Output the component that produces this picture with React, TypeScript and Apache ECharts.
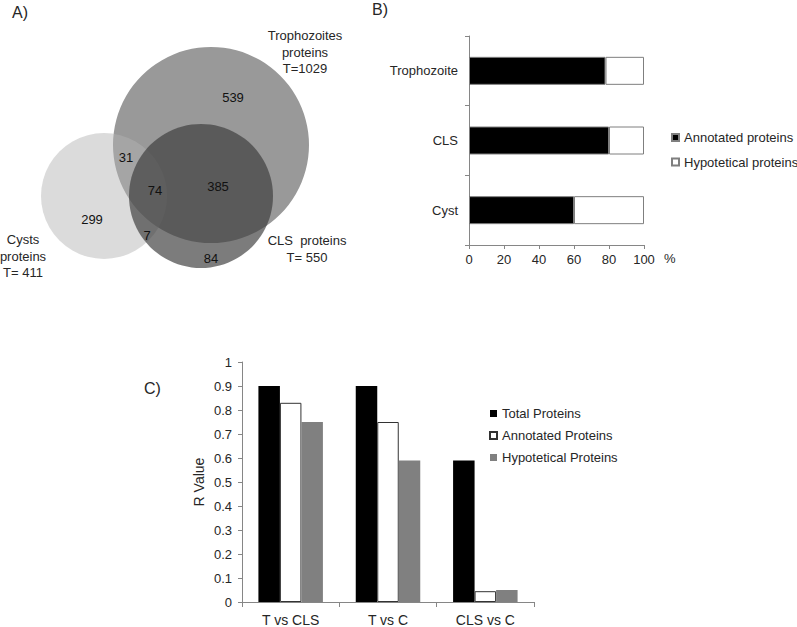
import React, { useEffect, useRef } from "react";
import * as echarts from "echarts";

// ---------- Data ----------
// Panel A: Venn diagram
const vennSetNames = ["Trophozoites", "Cysts", "CLS "];
const vennSetTotalsText = ["T=1029", "T= 411", "T= 550"];
const vennRegionNames = ["T only", "C only", "CLS only", "T∩C", "T∩CLS", "C∩CLS", "T∩C∩CLS"];
const vennRegionCounts = [539, 299, 84, 31, 385, 7, 74];

// Panel B: annotated vs hypothetical (%)
const stageCategories = ["Trophozoite", "CLS", "Cyst"];
const annotatedPct = [78, 80, 60];
const hypotheticalPct = [22, 20, 40];
const pctTicks = [0, 20, 40, 60, 80, 100];

// Panel C: R values
const comparisonCategories = ["T vs CLS", "T vs C", "CLS vs C"];
const rTotal = [0.9, 0.9, 0.59];
const rAnnotated = [0.83, 0.75, 0.045];
const rHypotetical = [0.75, 0.59, 0.05];

// ---------- Layout (Venn geometry in panel units) ----------
const vennCircleLayout = [
  [211, 145, 98], // Trophozoites
  [104, 196, 63], // Cysts
  [201, 196, 72], // CLS
];
const vennCircleFills = ["#999999", "rgba(178,178,178,0.47)", "rgba(60,60,60,0.67)"];
const vennRegionPos = [
  [233, 97],
  [92, 219],
  [211, 258],
  [126, 157],
  [218, 186],
  [147, 235],
  [155, 190],
];
const vennSetLabelPos = [
  [305, 52],
  [23, 256],
  [307, 249],
];

const FONT = "'Liberation Sans', Arial, Helvetica, sans-serif";
const TXT = "#262626";
const AXIS = "#868686";

export default function App() {
  const ref = useRef<HTMLDivElement>(null);

  useEffect(() => {
    if (!ref.current) return;
    const chart = echarts.init(ref.current, undefined, { renderer: "svg" });

    const setLabelData = vennSetNames.map((n, i) => {
      const first = i === 1 ? "Cysts" : i === 2 ? "CLS  proteins" : "Trophozoites";
      const text =
        i === 2
          ? `${first}\n${vennSetTotalsText[i]}`
          : `${first}\nproteins\n${vennSetTotalsText[i]}`;
      return { value: [vennSetLabelPos[i][0], vennSetLabelPos[i][1]], text };
    });

    const option: any = {
      animation: false,
      backgroundColor: "#ffffff",
      textStyle: { fontFamily: FONT },
      grid: [
        { left: 0, top: 0, width: 400, height: 300 },
        { left: 469, top: 36, width: 175, height: 209 },
        { left: 242, top: 362, width: 292, height: 244 },
      ],
      xAxis: [
        { gridIndex: 0, type: "value", min: 0, max: 400, show: false },
        {
          gridIndex: 1,
          type: "value",
          min: pctTicks[0],
          max: pctTicks[pctTicks.length - 1],
          interval: pctTicks[1] - pctTicks[0],
          axisLine: { show: true, lineStyle: { color: AXIS } },
          axisTick: { show: true, length: 4, lineStyle: { color: AXIS } },
          splitLine: { show: false },
          axisLabel: { color: TXT, fontSize: 13, margin: 8, fontFamily: FONT },
        },
        {
          gridIndex: 2,
          type: "category",
          data: comparisonCategories,
          axisLine: { show: true, lineStyle: { color: AXIS } },
          axisTick: { show: true, length: 5, lineStyle: { color: AXIS } },
          axisLabel: { color: TXT, fontSize: 14, margin: 11, fontFamily: FONT },
        },
      ],
      yAxis: [
        { gridIndex: 0, type: "value", min: 0, max: 300, inverse: true, show: false },
        {
          gridIndex: 1,
          type: "category",
          data: stageCategories,
          inverse: true,
          axisLine: { show: true, lineStyle: { color: AXIS } },
          axisTick: { show: true, length: 4, lineStyle: { color: AXIS } },
          axisLabel: { color: TXT, fontSize: 13, margin: 11, fontFamily: FONT },
        },
        {
          gridIndex: 2,
          type: "value",
          min: 0,
          max: 1,
          interval: 0.1,
          name: "R Value",
          nameLocation: "middle",
          nameGap: 36,
          nameTextStyle: { color: TXT, fontSize: 14, fontFamily: FONT },
          axisLine: { show: true, lineStyle: { color: AXIS } },
          axisTick: { show: true, length: 4, lineStyle: { color: AXIS } },
          splitLine: { show: false },
          axisLabel: { color: TXT, fontSize: 13, margin: 10, fontFamily: FONT },
        },
      ],
      legend: [
        {
          orient: "vertical",
          left: 671,
          top: 131,
          padding: 0,
          itemWidth: 7,
          itemHeight: 7,
          itemGap: 11.5,
          icon: "rect",
          textStyle: { color: TXT, fontSize: 13, fontFamily: FONT },
          data: ["Annotated proteins", "Hypotetical proteins"],
        },
        {
          orient: "vertical",
          left: 489,
          top: 407,
          padding: 0,
          itemWidth: 7,
          itemHeight: 7,
          itemGap: 9,
          icon: "rect",
          textStyle: { color: TXT, fontSize: 13, fontFamily: FONT },
          data: ["Total Proteins", "Annotated Proteins", "Hypotetical Proteins"],
        },
      ],
      graphic: [
        { type: "text", left: 12, top: 4, style: { text: "A)", font: `16px ${FONT}`, fill: TXT } },
        { type: "text", left: 372, top: 1, style: { text: "B)", font: `16px ${FONT}`, fill: TXT } },
        { type: "text", left: 144, top: 380, style: { text: "C)", font: `16px ${FONT}`, fill: TXT } },
        { type: "text", left: 664, top: 252, style: { text: "%", font: `13px ${FONT}`, fill: TXT } },
      ],
      series: [
        {
          type: "custom",
          name: "venn-circles",
          xAxisIndex: 0,
          yAxisIndex: 0,
          silent: true,
          data: vennCircleLayout,
          renderItem: (params: any, api: any) => {
            const c = api.coord([api.value(0), api.value(1)]);
            const r = Math.abs(api.size([api.value(2), 0])[0]);
            return {
              type: "circle",
              shape: { cx: c[0], cy: c[1], r },
              style: { fill: vennCircleFills[params.dataIndex], stroke: "none" },
            };
          },
        },
        {
          type: "custom",
          name: "venn-counts",
          xAxisIndex: 0,
          yAxisIndex: 0,
          silent: true,
          data: vennRegionCounts.map((v, i) => ({
            name: vennRegionNames[i],
            value: [vennRegionPos[i][0], vennRegionPos[i][1], v],
          })),
          renderItem: (params: any, api: any) => {
            const c = api.coord([api.value(0), api.value(1)]);
            return {
              type: "text",
              x: c[0],
              y: c[1],
              style: {
                text: String(api.value(2)),
                font: `13px ${FONT}`,
                fill: "#111111",
                align: "center",
                verticalAlign: "middle",
              },
            };
          },
        },
        {
          type: "custom",
          name: "venn-set-labels",
          xAxisIndex: 0,
          yAxisIndex: 0,
          silent: true,
          data: setLabelData,
          renderItem: (params: any, api: any) => {
            const c = api.coord([api.value(0), api.value(1)]);
            return {
              type: "text",
              x: c[0],
              y: c[1],
              style: {
                text: setLabelData[params.dataIndex].text,
                font: `13px ${FONT}`,
                lineHeight: 16.5,
                fill: TXT,
                align: "center",
                verticalAlign: "middle",
              },
            };
          },
        },
        {
          type: "bar",
          name: "Annotated proteins",
          xAxisIndex: 1,
          yAxisIndex: 1,
          stack: "stage",
          barWidth: 28,
          data: annotatedPct,
          itemStyle: { color: "#000000", borderColor: "#7f7f7f", borderWidth: 1 },
        },
        {
          type: "bar",
          name: "Hypotetical proteins",
          xAxisIndex: 1,
          yAxisIndex: 1,
          stack: "stage",
          barWidth: 28,
          data: hypotheticalPct,
          itemStyle: { color: "#ffffff", borderColor: "#7f7f7f", borderWidth: 1 },
        },
        {
          type: "bar",
          name: "Total Proteins",
          xAxisIndex: 2,
          yAxisIndex: 2,
          barWidth: 21.5,
          barGap: "0%",
          data: rTotal,
          itemStyle: { color: "#000000" },
        },
        {
          type: "bar",
          name: "Annotated Proteins",
          xAxisIndex: 2,
          yAxisIndex: 2,
          barWidth: 21.5,
          barGap: "0%",
          data: rAnnotated,
          itemStyle: { color: "#ffffff", borderColor: "#333333", borderWidth: 1 },
        },
        {
          type: "bar",
          name: "Hypotetical Proteins",
          xAxisIndex: 2,
          yAxisIndex: 2,
          barWidth: 21.5,
          barGap: "0%",
          data: rHypotetical,
          itemStyle: { color: "#808080" },
        },
      ],
    };

    chart.setOption(option);
    return () => chart.dispose();
  }, []);

  return (
    <div
      ref={ref}
      style={{ position: "absolute", left: 0, top: 0, width: 797, height: 627, background: "#fff" }}
    />
  );
}
